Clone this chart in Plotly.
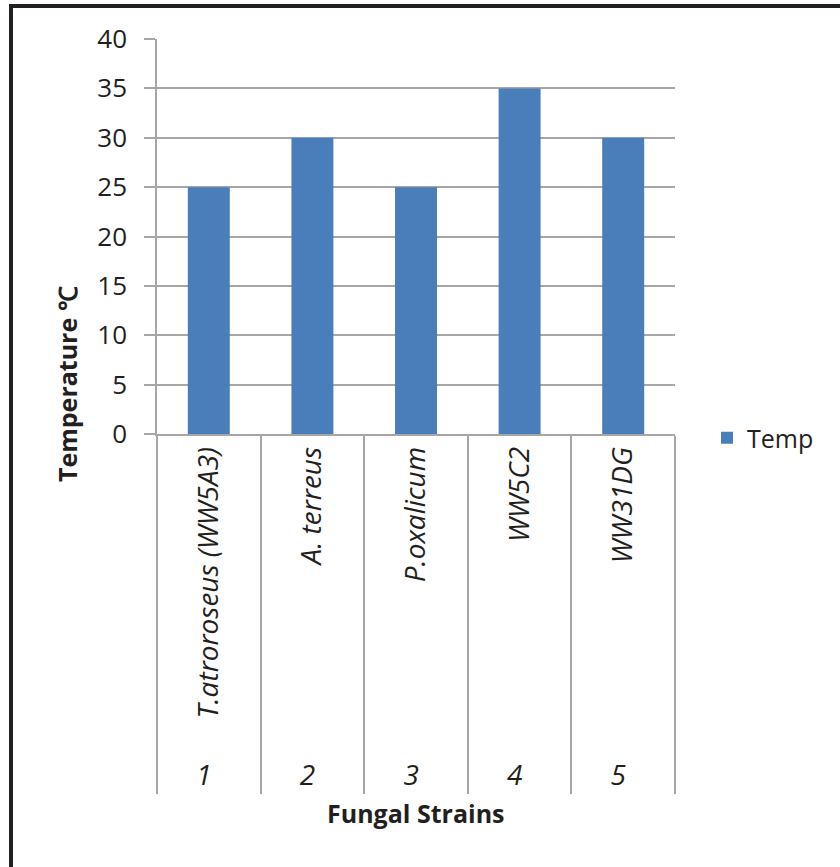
import plotly.graph_objects as go

# Optimum growth temperature of each fungal strain
strain_numbers = ["1", "2", "3", "4", "5"]
strain_names = ["T.atroroseus (WW5A3)", "A. terreus", "P.oxalicum", "WW5C2", "WW31DG"]
temperatures = [25, 30, 25, 35, 30]

series_name = "Temp"
y_title = "Temperature ℃"
x_title = "Fungal Strains"
y_ticks = [0, 5, 10, 15, 20, 25, 30, 35, 40]

BAR_COLOR = "#4A7EBB"
GRID_COLOR = "#A6A6A6"
TEXT_COLOR = "#231F20"
FONT = "Open Sans"

W, H = 840, 867
L, R, T, B = 157, 165, 39, 433
PW, PH = W - L - R, H - T - B


def px_x(p):
    return (p - L) / PW


def px_y(p):
    return (H - B - p) / PH


# Rotated strain names are anchored at the axis; a little non-breaking
# padding at their far end opens the gap above the numbered row.
PAD = "\u00a0\u00a0"
name_labels = [PAD + n for n in strain_names]

fig = go.Figure()
fig.add_trace(go.Bar(
    x=[strain_numbers, name_labels],
    y=temperatures,
    name=series_name,
    marker=dict(color=BAR_COLOR, line=dict(width=0)),
    showlegend=True,
))

fig.update_layout(
    width=W, height=H,
    margin=dict(l=L, r=R, t=T, b=B),
    paper_bgcolor="white",
    plot_bgcolor="white",
    font=dict(family=FONT, color=TEXT_COLOR, size=25),
    bargap=0.595,
    showlegend=True,
    legend=dict(
        x=px_x(707), y=px_y(438), xanchor="left", yanchor="middle",
        font=dict(family=FONT, size=25, color=TEXT_COLOR),
        bgcolor="rgba(0,0,0,0)",
    ),
    xaxis=dict(
        type="multicategory",
        showline=True, linecolor=GRID_COLOR, linewidth=1.5,
        showgrid=False, zeroline=False,
        ticks="outside", ticklen=0, tickcolor=GRID_COLOR,
        tickangle=-90,
        showdividers=True, dividercolor=GRID_COLOR, dividerwidth=1.5,
        tickfont=dict(family=FONT, size=28, color=TEXT_COLOR, style="italic"),
    ),
    yaxis=dict(
        range=[0, 40], tickvals=y_ticks,
        showgrid=True, gridcolor=GRID_COLOR, gridwidth=1.5,
        showline=True, linecolor=GRID_COLOR, linewidth=1.5,
        zeroline=False,
        ticks="outside", ticklen=11, tickcolor=GRID_COLOR, tickwidth=1.5,
        ticklabelstandoff=12,
        tickfont=dict(family=FONT, size=26, color=TEXT_COLOR),
    ),
    annotations=[
        dict(text=f"<b>{y_title}</b>", xref="paper", yref="paper",
             x=px_x(67), y=px_y(384), xanchor="center", yanchor="middle",
             textangle=-90, showarrow=False,
             font=dict(family=FONT, size=25, color=TEXT_COLOR)),
        dict(text=f"<b>{x_title}</b>", xref="paper", yref="paper",
             x=0.5, y=px_y(813), xanchor="center", yanchor="middle",
             showarrow=False,
             font=dict(family=FONT, size=25, color=TEXT_COLOR)),
    ],
    shapes=[
        dict(type="line", xref="paper", yref="paper",
             x0=px_x(11), x1=px_x(11), y0=px_y(4), y1=px_y(H + 5),
             line=dict(color=TEXT_COLOR, width=4)),
        dict(type="line", xref="paper", yref="paper",
             x0=px_x(9), x1=px_x(W + 5), y0=px_y(6), y1=px_y(6),
             line=dict(color=TEXT_COLOR, width=4)),
    ],
)

fig.write_html("out.html")
